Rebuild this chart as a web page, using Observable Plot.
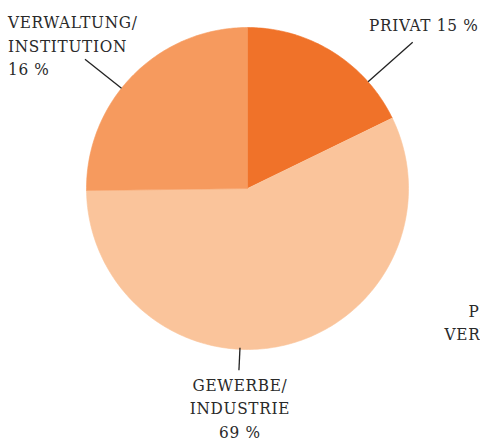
<!DOCTYPE html>
<html><head><meta charset="utf-8">
<script src="https://cdn.jsdelivr.net/npm/d3@7"></script>
<script src="https://cdn.jsdelivr.net/npm/@observablehq/plot@0.6"></script>
<style>
body{margin:0;background:#fff;overflow:hidden}
svg text{letter-spacing:0.7px}
</style></head>
<body><div id="chart"></div>
<script>
// Data (clockwise from 12 o'clock)
const categories = ["PRIVAT", "GEWERBE/\nINDUSTRIE", "VERWALTUNG/\nINSTITUTION"];
const drawnShares = [17.8, 57.0, 25.2];      // slice sizes as drawn
const labelPercents = [15, 69, 16];          // percentages printed in labels
const colors = ["#f07229", "#fac49b", "#f69a5e"];
const cutLabels = ["PRIVAT", "VERWALTUNG"];  // clipped label of neighbouring chart

// Layout for annotations
const layout = [
  {angle: 48.5, r0: 1.0, r1: 1.37, sep: " ", dx: 11, dy: -11, textAnchor: "middle", lineAnchor: "bottom"},
  {angle: 182.7, r0: 0.99, r1: 1.13, sep: "\n", dx: 1, dy: 4, textAnchor: "middle", lineAnchor: "top"},
  {angle: 308.5, r0: 1.0, r1: 1.29, sep: "\n", dx: -77, dy: 16, textAnchor: "start", lineAnchor: "bottom"}
];
const cutLayout = [{x: 1.373, y: -0.77, dy: 0}, {x: 1.224, y: -0.77, dy: 23}];

const rad = a => a * Math.PI / 180;
const polar = (deg, r) => [r * Math.sin(rad(deg)), r * Math.cos(rad(deg))];

const arcs = d3.pie().sort(null).value(d => d)(drawnShares);
const slicePts = [];
arcs.forEach((a, i) => {
  const s = a.startAngle * 180 / Math.PI, e = a.endAngle * 180 / Math.PI;
  slicePts.push({i, x: 0, y: 0});
  const n = Math.max(2, Math.ceil(e - s));
  for (let k = 0; k <= n; k++) {
    const [x, y] = polar(s + (e - s) * k / n, 1);
    slicePts.push({i, x, y});
  }
});

const leaders = layout.map((l, i) => {
  const [x1, y1] = polar(l.angle, l.r0);
  const [x2, y2] = polar(l.angle, l.r1);
  return {i, x1, y1, x2, y2,
    text: categories[i] + l.sep + labelPercents[i] + " %"};
});

const font = "'DejaVu Serif Condensed', 'DejaVu Serif', serif";

const chart = Plot.plot({
  width: 480, height: 440,
  margin: 0,
  x: {domain: [-1, 1], range: [86, 408], axis: null},
  y: {domain: [-1, 1], range: [349, 27], axis: null},
  style: {fontFamily: font, fontStretch: "condensed", background: "#fff"},
  marks: [
    ...arcs.map((a, i) => Plot.line(slicePts.filter(p => p.i === i), {
      x: "x", y: "y", fill: colors[i], stroke: colors[i], strokeWidth: 0.6, curve: "linear"
    })),
    Plot.link(leaders, {x1: "x1", y1: "y1", x2: "x2", y2: "y2", stroke: "#222", strokeWidth: 1.3}),
    ...leaders.map((d, i) => Plot.text([d], {
      x: "x2", y: "y2", text: "text",
      dx: layout[i].dx, dy: layout[i].dy,
      textAnchor: layout[i].textAnchor, lineAnchor: layout[i].lineAnchor,
      lineHeight: 1.38, fontSize: 17, fill: "#2a2a2a", fontFamily: font
    })),
    ...cutLabels.map((t, i) => Plot.text([t], {
      x: cutLayout[i].x, y: cutLayout[i].y, text: d => d, textAnchor: "start", lineAnchor: "bottom",
      fontSize: 17, fill: "#2a2a2a", fontFamily: font, dy: 5 + cutLayout[i].dy
    }))
  ]
});
document.getElementById("chart").appendChild(chart);
</script>
</body></html>
